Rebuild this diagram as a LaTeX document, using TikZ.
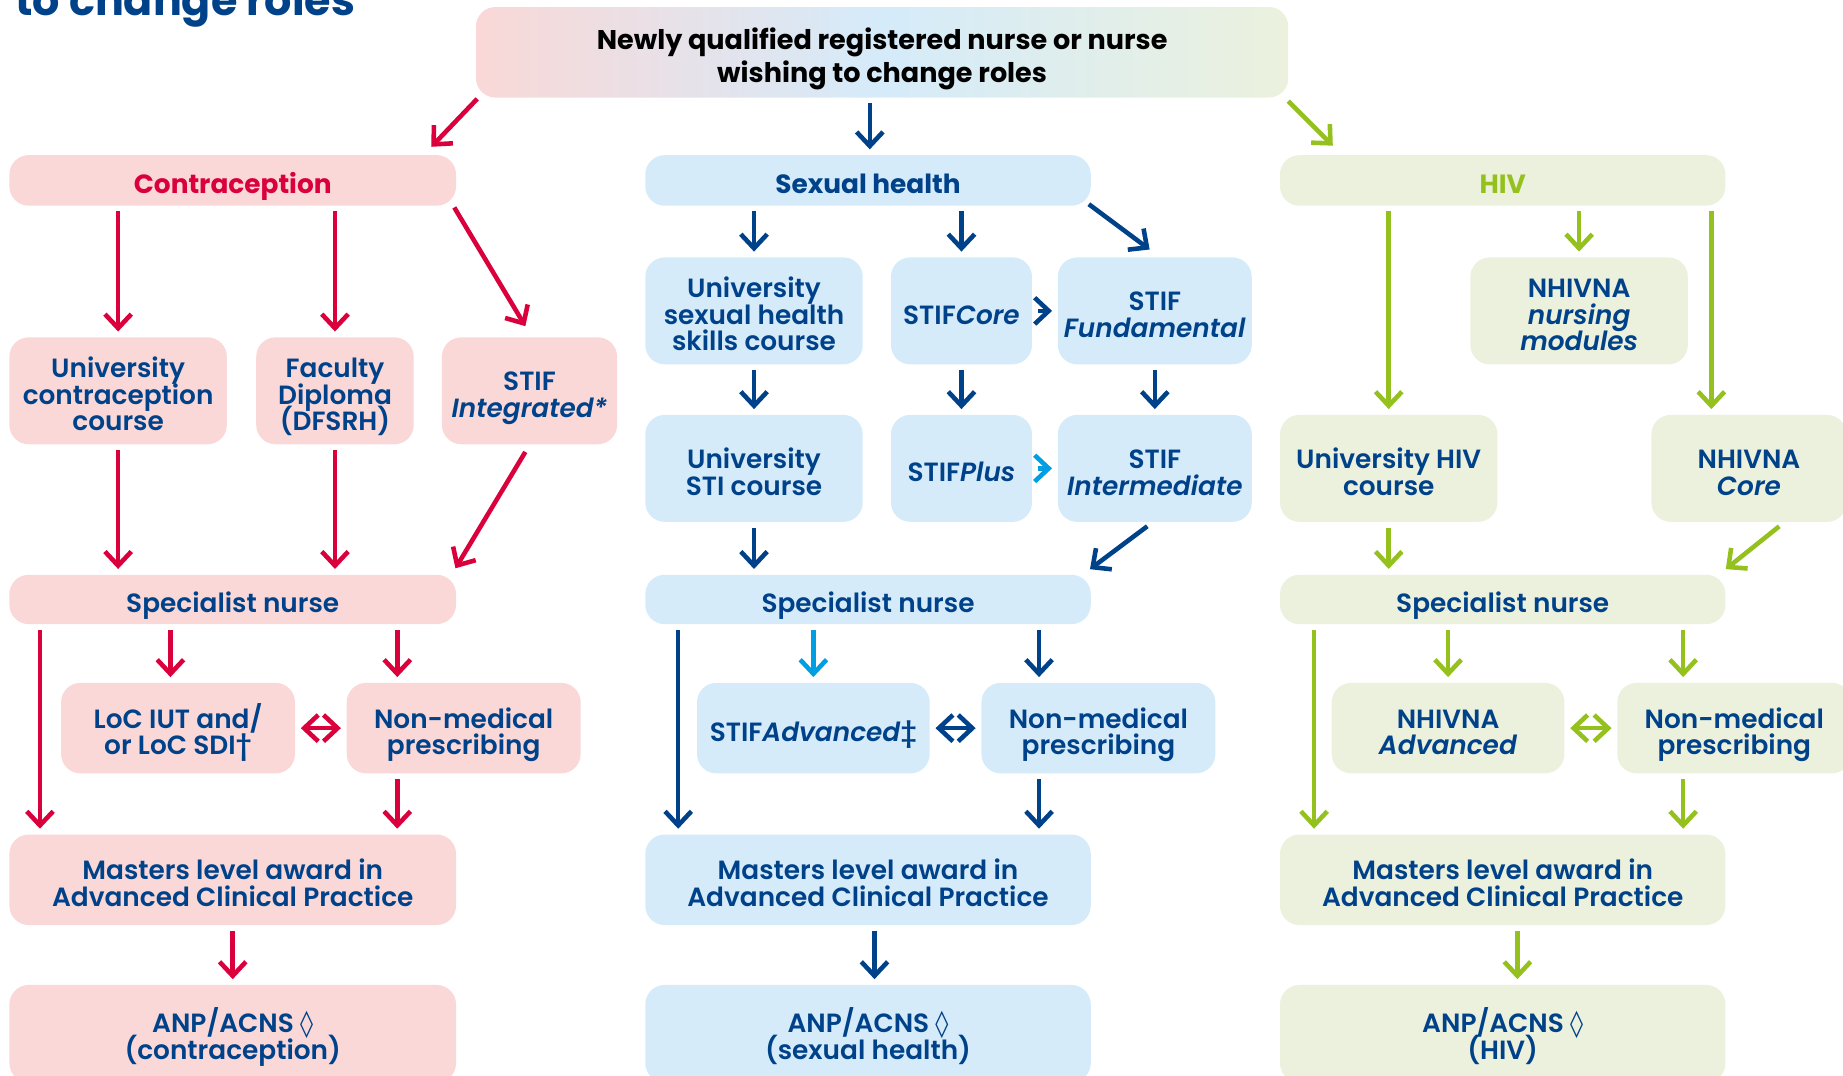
\documentclass[tikz,border=0pt]{standalone}
\usepackage{fontspec}
\setmainfont{Poppins}[UprightFont=* SemiBold, BoldFont=* Bold, ItalicFont=* SemiBold Italic, BoldItalicFont=* Bold Italic]
\newfontfamily\titlefont{Poppins}[UprightFont=* Bold]
\newfontfamily\symfont{DejaVu Sans}
\newcommand\lozsym{\smash{\symfont ◊}}
\usetikzlibrary{arrows.meta,calc}

\definecolor{pinkfill}{RGB}{249,216,215}
\definecolor{bluefill}{RGB}{213,235,250}
\definecolor{greenfill}{RGB}{235,241,221}
\definecolor{redline}{RGB}{218,0,60}
\definecolor{navy}{RGB}{0,66,138}
\definecolor{skyline}{RGB}{0,159,227}
\definecolor{greenline}{RGB}{149,193,31}

\tikzset{
  box/.style={rounded corners=5.5pt, inner sep=0pt, align=center, text=navy,
    font={\fontsize{7.5}{7.6}\selectfont\lineskiplimit-10pt}, text depth=0pt},
  head/.style={font={\fontsize{7.5}{8}\bfseries\selectfont}},
  oneline/.style={text height=7.6pt},
  twoline/.style={text height=15.2pt},
  threeline/.style={text height=22.8pt},
  pinkbox/.style={box, fill=pinkfill},
  bluebox/.style={box, fill=bluefill},
  greenbox/.style={box, fill=greenfill},
  sz/.style 2 args={minimum width=#1*\px, minimum height=#2*\px},
}

\begin{document}
\begin{tikzpicture}[x=0.011754cm, y=-0.011754cm, >={Straight Barb[length=4pt,width=7.5pt]}, line width=1.3pt]

\def\px{0.011754cm}

\useasboundingbox (0,0) rectangle (1568,915);
\clip (0,0) rectangle (1568,915);

% Titel
\node[anchor=base west, inner sep=0pt, text=navy, font={\titlefont\fontsize{12.2}{14}\selectfont}] (title) at (11,12.8) {to change roles};

% Start
\node[box, sz={691}{77}, text=black, font={\fontsize{7.7}{9.4}\bfseries\selectfont\lineskiplimit-10pt}, text height=17.1pt,
  left color=pinkfill, right color=greenfill, middle color=bluefill] (top) at (750.5,44.5)
  {Newly qualified registered nurse or nurse\\wishing to change roles};

% Contraception
\node[pinkbox, head, oneline, text=redline, sz={380}{43}] (contra) at (198,153.5) {Contraception};
\node[pinkbox, threeline, sz={185}{91}] (unicon) at (100.5,332.5) {University\\contraception\\course};
\node[pinkbox, threeline, sz={134}{91}] (faculty) at (285,332.5) {Faculty\\Diploma\\(DFSRH)};
\node[pinkbox, twoline, sz={149}{91}] (stifint) at (450.5,332.5) {STIF\\\textit{Integrated*}};
\node[pinkbox, oneline, sz={380}{42}] (specA) at (198,510) {Specialist nurse};
\node[pinkbox, twoline, sz={199}{77}] (loc) at (151.5,619.5) {LoC IUT and/\\or LoC SDI†};
\node[pinkbox, twoline, sz={199}{77}] (nmpA) at (394.5,619.5) {Non-medical\\prescribing};
\node[pinkbox, twoline, sz={380}{77}] (mastA) at (198,748.5) {Masters level award in\\Advanced Clinical Practice};
\node[pinkbox, sz={380}{83}] (anpA) at (198,879.5) {ANP/ACNS \lozsym\\(contraception)};

% Sexual health
\node[bluebox, head, oneline, sz={379}{43}] (sh) at (738.5,153.5) {Sexual health};
\node[bluebox, threeline, sz={185}{91}] (unish) at (641.5,264.5) {University\\sexual health\\skills course};
\node[bluebox, oneline, sz={120}{91}] (core) at (818,264.5) {STIF\textit{Core}};
\node[bluebox, twoline, sz={165}{91}] (fund) at (982.5,264.5) {STIF\\\textit{Fundamental}};
\node[bluebox, twoline, sz={185}{91}] (unisti) at (641.5,398.5) {University\\STI course};
\node[bluebox, oneline, sz={120}{91}] (plus) at (818,398.5) {STIF\textit{Plus}};
\node[bluebox, twoline, sz={165}{91}] (inter) at (982.5,398.5) {STIF\\\textit{Intermediate}};
\node[bluebox, oneline, sz={379}{42}] (specB) at (738.5,510) {Specialist nurse};
\node[bluebox, oneline, sz={198}{77}] (adv) at (692,619.5) {STIF\textit{Advanced}‡};
\node[bluebox, twoline, sz={199}{77}] (nmpB) at (934.5,619.5) {Non-medical\\prescribing};
\node[bluebox, twoline, sz={379}{77}] (mastB) at (738.5,748.5) {Masters level award in\\Advanced Clinical Practice};
\node[bluebox, sz={379}{83}] (anpB) at (738.5,879.5) {ANP/ACNS \lozsym\\(sexual health)};

% HIV
\node[greenbox, head, oneline, text=greenline, sz={379}{43}] (hiv) at (1278.5,153.5) {HIV};
\node[greenbox, threeline, sz={185}{91}] (nursing) at (1343.5,264.5) {NHIVNA\\\textit{nursing}\\\textit{modules}};
\node[greenbox, twoline, sz={185}{91}] (unihiv) at (1181.5,398.5) {University HIV\\course};
\node[greenbox, twoline, sz={166}{91}] (corehiv) at (1488,398.5) {NHIVNA\\\textit{Core}};
\node[greenbox, oneline, sz={379}{42}] (specC) at (1278.5,510) {Specialist nurse};
\node[greenbox, twoline, sz={198}{77}] (advC) at (1232,619.5) {NHIVNA\\\textit{Advanced}};
\node[greenbox, twoline, sz={199}{77}] (nmpC) at (1475.5,619.5) {Non-medical\\prescribing};
\node[greenbox, twoline, sz={379}{77}] (mastC) at (1278.5,748.5) {Masters level award in\\Advanced Clinical Practice};
\node[greenbox, sz={379}{83}] (anpC) at (1278.5,879.5) {ANP/ACNS \lozsym\\(HIV)};

% Spuren der senkrechten Pfeile
\coordinate (laneTop) at (740,0);
\coordinate (laneA1) at (34,0);
\coordinate (laneA2) at (145,0);
\coordinate (laneA3) at (338,0);
\coordinate (laneB1) at (577,0);
\coordinate (laneB3) at (884,0);
\coordinate (laneB4) at (744,0);
\coordinate (laneC1) at (1118,0);
\coordinate (laneC3) at (1432,0);
\coordinate (laneC4) at (1456,0);
\coordinate (laneC5) at (1291,0);

% Pfeile rot
\begin{scope}[redline, shorten >=1pt, shorten <=1pt]
\draw[->] ($(top.south west)+(5,-3)$) -- ($(contra.north east)+(-25,-3)$);
\draw[->] (contra.south -| unicon) -- (unicon.north);
\draw[->] (contra.south -| faculty) -- (faculty.north);
\draw[->] ($(contra.south east)+(-5,-3)$) -- ($(stifint.north)+(-2,-5)$);
\draw[->] (unicon.south) -- (specA.north -| unicon);
\draw[->] (faculty.south) -- (specA.north -| faculty);
\draw[->] ($(stifint.south)+(-2,2)$) -- ($(specA.north east)+(-4,-1)$);
\draw[->] (specA.south -| laneA1) -- (mastA.north -| laneA1);
\draw[->] (specA.south -| laneA2) -- (loc.north -| laneA2);
\draw[->] (specA.south -| laneA3) -- (nmpA.north -| laneA3);
\draw[<->] (loc.east) -- (nmpA.west);
\draw[->] (nmpA.south -| laneA3) -- (mastA.north -| laneA3);
\draw[->] (mastA.south) -- (anpA.north);
\end{scope}

% Pfeile blau
\begin{scope}[navy, shorten >=1pt, shorten <=1pt]
\draw[->] (top.south -| laneTop) -- (sh.north -| laneTop);
\draw[->] (sh.south -| unish) -- (unish.north);
\draw[->] (sh.south -| core) -- (core.north);
\draw[->] ($(sh.south east)+(-6,-5)$) -- ($(fund.north)+(-2,-3)$);
\draw[->] (unish.south) -- (unisti.north);
\draw[->] (core.east) -- (fund.west);
\draw[->] (core.south) -- (plus.north);
\draw[->] (fund.south) -- (inter.north);
\draw[->, skyline] (plus.east) -- (inter.west);
\draw[->] (unisti.south) -- (specB.north -| unisti);
\draw[->] ($(inter.south)+(-4,0)$) -- ($(specB.north east)+(-5,-1)$);
\draw[->] (specB.south -| laneB1) -- (mastB.north -| laneB1);
\draw[->, skyline] (specB.south -| adv) -- (adv.north);
\draw[->] (specB.south -| laneB3) -- (nmpB.north -| laneB3);
\draw[<->] (adv.east) -- (nmpB.west);
\draw[->] (nmpB.south -| laneB3) -- (mastB.north -| laneB3);
\draw[->] (mastB.south -| laneB4) -- (anpB.north -| laneB4);
\end{scope}

% Pfeile gruen
\begin{scope}[greenline, shorten >=1pt, shorten <=1pt]
\draw[->] ($(top.south east)+(-4,-1)$) -- ($(hiv.north west)+(49,-4)$);
\draw[->] (hiv.south -| unihiv) -- (unihiv.north);
\draw[->] (hiv.south -| nursing) -- (nursing.north);
\draw[->] (hiv.south -| laneC4) -- (corehiv.north -| laneC4);
\draw[->] (unihiv.south) -- (specC.north -| unihiv);
\draw[->] ($(corehiv.south west)+(113,0)$) -- ($(specC.north east)+(-4,-1)$);
\draw[->] (specC.south -| laneC1) -- (mastC.north -| laneC1);
\draw[->] (specC.south -| advC) -- (advC.north);
\draw[->] (specC.south -| laneC3) -- (nmpC.north -| laneC3);
\draw[<->] (advC.east) -- (nmpC.west);
\draw[->] (nmpC.south -| laneC3) -- (mastC.north -| laneC3);
\draw[->] (mastC.south -| laneC5) -- (anpC.north -| laneC5);
\end{scope}

\end{tikzpicture}
\end{document}
